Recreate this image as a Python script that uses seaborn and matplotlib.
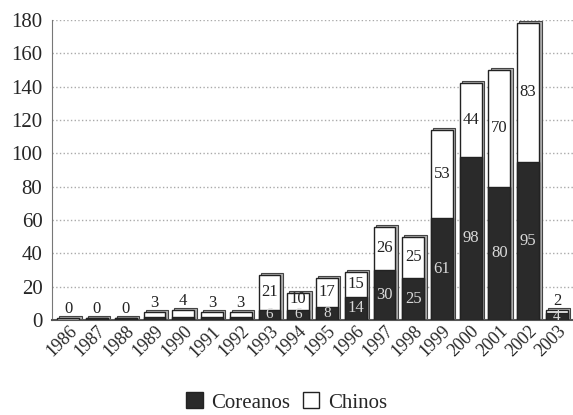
import pandas as pd
import matplotlib.pyplot as plt
import seaborn as sns
from matplotlib.patches import Patch

# Dados
anos = ['1986', '1987', '1988', '1989', '1990', '1991', '1992', '1993', '1994',
        '1995', '1996', '1997', '1998', '1999', '2000', '2001', '2002', '2003']
coreanos = [0, 1, 1, 2, 2, 2, 2, 6, 6, 8, 14, 30, 25, 61, 98, 80, 95, 4]
chinos = [1, 0, 0, 3, 4, 3, 3, 21, 10, 17, 15, 26, 25, 53, 44, 70, 83, 2]
rotulos_chinos = ['0', '0', '0', '3', '4', '3', '3', '21', '10', '17', '15',
                  '26', '25', '53', '44', '70', '83', '2']

df = pd.DataFrame({'ano': anos, 'coreanos': coreanos, 'chinos': chinos})
df['total'] = df['coreanos'] + df['chinos']

sns.set_style('white')
plt.rcParams['font.family'] = ['Liberation Serif', 'DejaVu Serif']

fig = plt.figure(figsize=(5.73, 4.15), dpi=100)
ax = fig.add_axes([0.091, 0.229, 0.909, 0.723])

# Sombra "3D"
ax.bar([i + 0.08 for i in range(len(anos))], df['total'] + 1.2, width=0.78,
       color='#b0b0b0', edgecolor='#444444', linewidth=0.8, zorder=2)

# Total (Chinos em branco) e Coreanos em escuro
sns.barplot(x='ano', y='total', data=df, color='white', edgecolor='#222222',
            linewidth=1.0, width=0.76, saturation=1, ax=ax, zorder=3)
sns.barplot(x='ano', y='coreanos', data=df, color='#2a2a2a', edgecolor='#222222',
            linewidth=1.0, width=0.76, saturation=1, ax=ax, zorder=4)

# Rótulos
for i, (c, ch) in enumerate(zip(coreanos, chinos)):
    tot = c + ch
    if ch >= 10:
        y = c + ch / 2 + (1.5 if ch < 12 else 0)
        ax.text(i, y, rotulos_chinos[i], ha='center', va='center',
                fontsize=12, color='#222222', zorder=5)
    else:
        ax.text(i, tot + 0.5, rotulos_chinos[i], ha='center', va='bottom',
                fontsize=12, color='#222222', zorder=5)
    if c >= 4:
        ax.text(i, c / 2, str(c), ha='center', va='center',
                fontsize=12 if c > 10 else 11, color='#d8d8d8', zorder=5)

ax.set_ylim(0, 180)
ax.set_xlim(-0.56, 17.56)
ax.set_yticks(range(0, 181, 20))
ax.tick_params(axis='y', labelsize=15, length=3, pad=4)
ax.tick_params(axis='x', labelsize=13, length=0, pad=2)
for lab in ax.get_xticklabels():
    lab.set_rotation(45)
    lab.set_ha('right')
    lab.set_rotation_mode('anchor')
ax.set_xlabel('')
ax.set_ylabel('')
ax.yaxis.grid(True, color='#aaaaaa', linestyle=':', linewidth=1.0, zorder=0)
ax.set_axisbelow(True)
for lado in ['top', 'right']:
    ax.spines[lado].set_visible(False)
ax.spines['left'].set_color('#777777')
ax.spines['bottom'].set_color('#555555')
ax.spines['bottom'].set_linewidth(1.5)

handles = [Patch(facecolor='#2a2a2a', edgecolor='#222222', label='Coreanos'),
           Patch(facecolor='white', edgecolor='#222222', label='Chinos')]
fig.legend(handles=handles, loc='center', bbox_to_anchor=(0.5, 0.03), ncol=2,
           frameon=False, fontsize=15, handlelength=0.8, handleheight=0.8,
           handletextpad=0.4, columnspacing=0.6)

plt.savefig('out.png', dpi=100)
